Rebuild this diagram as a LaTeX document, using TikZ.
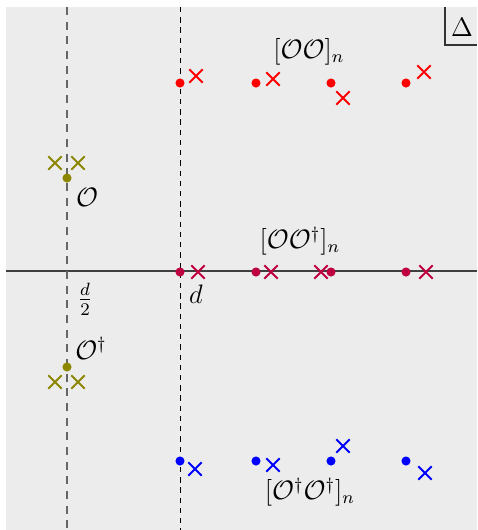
\documentclass[tikz,border=0pt]{standalone}
\usepackage{amsmath}
\usetikzlibrary{shapes.misc}
\begin{document}
\begin{tikzpicture}[x=0.45pt,y=-0.45pt,
  dotm/.style={circle,fill=#1,inner sep=0pt,minimum size=4.1pt},
  crossm/.style={cross out,draw=#1,line width=0.85pt,inner sep=0pt,minimum size=5.2pt},
  lbl/.style={inner sep=0pt,font=\large}]
\useasboundingbox (0,0) rectangle (477,530);
\fill[gray!15] (6,7) rectangle (477,530);
% axes and guide lines
\coordinate (hl) at (6,271); \coordinate (hr) at (477,271);
\draw[black!75,line width=0.5pt] (hl) -- (hr);
\coordinate (v1t) at (67,7); \coordinate (v1b) at (67,530);
\draw[black!60,line width=0.6pt,dash pattern=on 3.6pt off 3.0pt] (v1t) -- (v1b);
\coordinate (v2t) at (180,7); \coordinate (v2b) at (180,530);
\draw[black,line width=0.45pt,dash pattern=on 2.4pt off 2.2pt] (v2t) -- (v2b);
% Delta box
\coordinate (b1) at (445,7); \coordinate (b2) at (445,45); \coordinate (b3) at (477,45);
\draw[black!80,line width=0.5pt] (b1) -- (b2) -- (b3);
\node[lbl] (delta) at (462,27) {$\Delta$};
% red row
\foreach \x [count=\i] in {180,256,331,406} \node[dotm=red] (r\i) at (\x,83) {};
\node[crossm=red] (rc1) at (196,76) {};
\node[crossm=red] (rc2) at (273,79) {};
\node[crossm=red] (rc3) at (343,98) {};
\node[crossm=red] (rc4) at (424,72) {};
\node[lbl] (lr) at (309,52) {$[\mathcal{O}\mathcal{O}]_n$};
% purple row
\foreach \x [count=\i] in {180,256,331,406} \node[dotm=purple] (p\i) at (\x,272) {};
\node[crossm=purple] (pc1) at (198,272) {};
\node[crossm=purple] (pc2) at (271,272) {};
\node[crossm=purple] (pc3) at (321,272) {};
\node[crossm=purple] (pc4) at (426,272) {};
\node[lbl] (lp) at (300,241) {$[\mathcal{O}\mathcal{O}^\dagger]_n$};
% blue row
\foreach \x [count=\i] in {180,256,331,406} \node[dotm=blue] (u\i) at (\x,461) {};
\node[crossm=blue] (uc1) at (195,469) {};
\node[crossm=blue] (uc2) at (273,465) {};
\node[crossm=blue] (uc3) at (343,446) {};
\node[crossm=blue] (uc4) at (425,473) {};
\node[lbl] (lu) at (310,492) {$[\mathcal{O}^\dagger\mathcal{O}^\dagger]_n$};
% olive
\node[dotm=olive] (o1) at (67,178) {};
\node[crossm=olive] (oc1) at (55,163) {};
\node[crossm=olive] (oc2) at (78,163) {};
\node[lbl] (lo) at (87,197) {$\mathcal{O}$};
\node[dotm=olive] (o2) at (67,367) {};
\node[crossm=olive] (oc3) at (55,382) {};
\node[crossm=olive] (oc4) at (78,382) {};
\node[lbl] (lod) at (91,348) {$\mathcal{O}^\dagger$};
% axis labels
\node[lbl] (ld) at (196,294) {$d$};
\node[lbl] (ld2) at (85,299) {$\frac{d}{2}$};
\end{tikzpicture}
\end{document}
